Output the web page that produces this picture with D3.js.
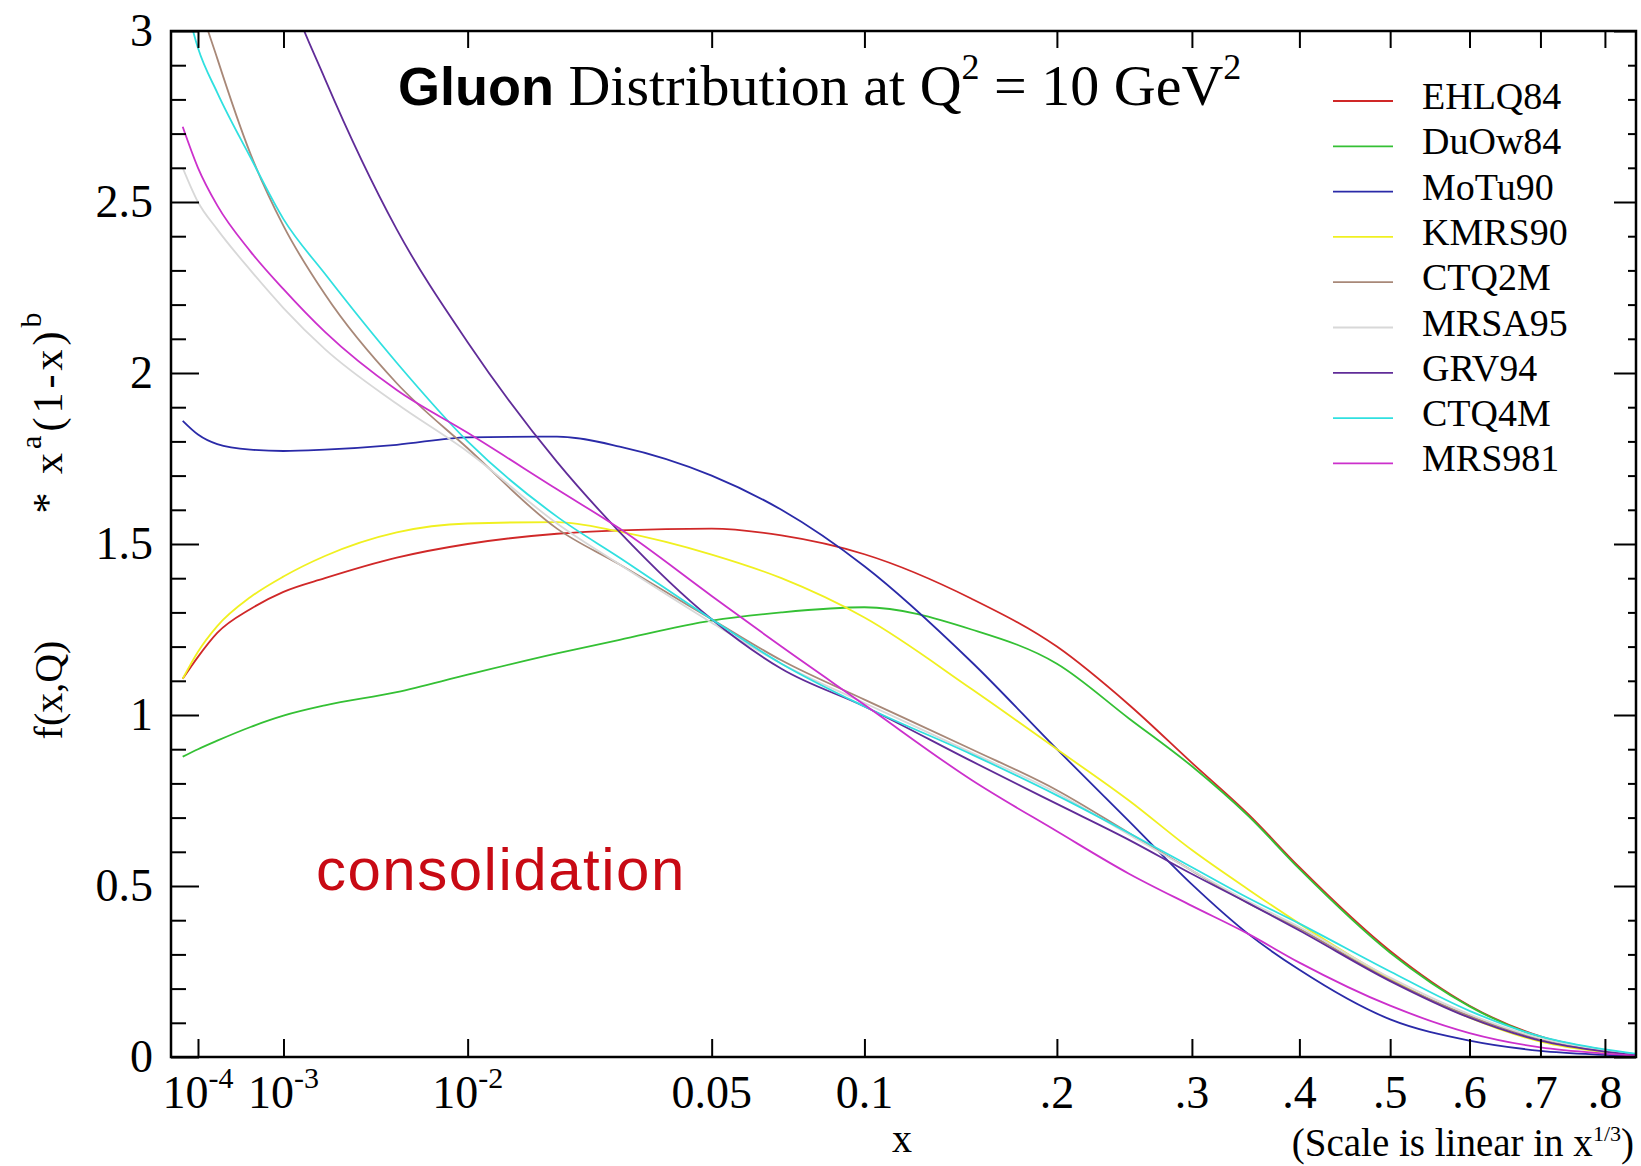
<!DOCTYPE html>
<html>
<head>
<meta charset="utf-8">
<script src="https://cdn.jsdelivr.net/npm/d3@7"></script>
<style>
  body { margin: 0; background: #fff; }
  svg { display: block; }
  .serif { font-family: 'Liberation Serif', 'Times New Roman', serif; }
  .sans { font-family: 'Liberation Sans', Arial, sans-serif; }
  .tick line { stroke: #000; stroke-width: 2; }
</style>
</head>
<body>
<div id="chart"></div>
<script>
'use strict';

var xGrid = [5e-5, 1e-4, 2e-4, 5e-4, 1e-3, 2e-3, 5e-3, 1e-2, 0.02, 0.03, 0.05, 0.07, 0.1, 0.15, 0.2, 0.25, 0.3, 0.35, 0.4, 0.5, 0.6, 0.7, 0.8, 0.85];

var ehlq84 = [1.106, 1.17, 1.24, 1.31, 1.36, 1.40, 1.46, 1.50, 1.53, 1.54, 1.545, 1.525, 1.47, 1.34, 1.20, 1.03, 0.86, 0.71, 0.555, 0.31, 0.15, 0.06, 0.02, 0.008];
var duow84 = [0.878, 0.90, 0.925, 0.965, 0.998, 1.028, 1.067, 1.118, 1.18, 1.22, 1.276, 1.30, 1.315, 1.25, 1.15, 0.99, 0.85, 0.705, 0.55, 0.305, 0.148, 0.058, 0.019, 0.007];
var motu90 = [1.86, 1.82, 1.792, 1.776, 1.772, 1.776, 1.79, 1.812, 1.814, 1.785, 1.70, 1.60, 1.435, 1.155, 0.90, 0.69, 0.505, 0.36, 0.255, 0.11, 0.048, 0.018, 0.006, 0.002];
var kmrs90 = [1.106, 1.185, 1.26, 1.345, 1.405, 1.465, 1.534, 1.56, 1.564, 1.536, 1.469, 1.40, 1.285, 1.076, 0.90, 0.75, 0.605, 0.49, 0.39, 0.229, 0.115, 0.045, 0.014, 0.005];
var ctq2m  = [3.30, 3.10, 2.92, 2.64, 2.43, 2.23, 1.97, 1.78, 1.545, 1.44, 1.28, 1.16, 1.045, 0.90, 0.78, 0.655, 0.545, 0.45, 0.375, 0.225, 0.12, 0.052, 0.018, 0.007];
var mrsa95 = [2.60, 2.50, 2.42, 2.30, 2.19, 2.07, 1.91, 1.77, 1.56, 1.44, 1.27, 1.15, 1.035, 0.89, 0.772, 0.65, 0.545, 0.455, 0.38, 0.232, 0.125, 0.055, 0.019, 0.007];
var grv94  = [4.6, 4.3, 3.95, 3.5, 3.16, 2.86, 2.42, 2.09, 1.74, 1.535, 1.28, 1.135, 1.025, 0.865, 0.74, 0.635, 0.535, 0.45, 0.37, 0.222, 0.115, 0.048, 0.016, 0.006];
var ctq4m  = [3.12, 2.95, 2.82, 2.63, 2.45, 2.29, 2.03, 1.80, 1.58, 1.46, 1.28, 1.15, 1.025, 0.885, 0.765, 0.655, 0.555, 0.465, 0.39, 0.25, 0.135, 0.06, 0.022, 0.01];
var mrs981 = [2.72, 2.60, 2.49, 2.355, 2.245, 2.12, 1.95, 1.825, 1.66, 1.545, 1.348, 1.20, 1.03, 0.81, 0.66, 0.536, 0.442, 0.36, 0.276, 0.15, 0.07, 0.028, 0.01, 0.004];

var seriesNames = ['EHLQ84', 'DuOw84', 'MoTu90', 'KMRS90', 'CTQ2M', 'MRSA95', 'GRV94', 'CTQ4M', 'MRS981'];
var seriesValues = [ehlq84, duow84, motu90, kmrs90, ctq2m, mrsa95, grv94, ctq4m, mrs981];
var seriesColors = ['#d02828', '#34c034', '#2a2aa8', '#f0f020', '#a88878', '#d8d8d8', '#602c98', '#30e0e0', '#cc30cc'];

var xTicks = [1e-4, 1e-3, 1e-2, 0.05, 0.1, 0.2, 0.3, 0.4, 0.5, 0.6, 0.7, 0.8];
var xTickLabels = [['10', '-4'], ['10', '-3'], ['10', '-2'], ['0.05'], ['0.1'], ['.2'], ['.3'], ['.4'], ['.5'], ['.6'], ['.7'], ['.8']];
var yMajor = [0, 0.5, 1, 1.5, 2, 2.5, 3];

var width = 1641, height = 1166;
var plot = {left: 171, right: 1636, top: 31, bottom: 1057};

var svg = d3.select('#chart').append('svg')
    .attr('width', width)
    .attr('height', height);

svg.append('rect').attr('width', width).attr('height', height).attr('fill', '#fff');

// the x axis is linear in x^(1/3)
var x = d3.scalePow().exponent(1 / 3)
  .domain([Math.pow(0.0295, 3), Math.pow(0.9478, 3)])
  .range([plot.left, plot.right]);

var y = d3.scaleLinear()
  .domain([0, 3])
  .range([plot.bottom, plot.top]);

var yMinor = d3.range(0, 3.001, 0.1).filter(function(d) {
  return Math.abs(d * 2 - Math.round(d * 2)) > 1e-6;
});

svg.append('clipPath').attr('id', 'plotclip')
  .append('rect')
    .attr('x', plot.left)
    .attr('y', plot.top)
    .attr('width', plot.right - plot.left)
    .attr('height', plot.bottom - plot.top);

// curves
var line = d3.line()
  .x(function(d, i) { return x(xGrid[i]); })
  .y(function(d) { return y(d); })
  .curve(d3.curveMonotoneX);

svg.append('g')
    .attr('clip-path', 'url(#plotclip)')
  .selectAll('path')
  .data(seriesValues)
  .enter()
  .append('path')
    .attr('d', line)
    .attr('fill', 'none')
    .attr('stroke', function(d, i) { return seriesColors[i]; })
    .attr('stroke-width', 1.8);

// ticks, all pointing inward
svg.append('g')
    .attr('transform', 'translate(0,' + plot.bottom + ')')
    .call(d3.axisBottom(x).tickValues(xTicks).tickSize(-18).tickFormat(''))
    .call(function(g) { g.select('.domain').remove(); });

svg.append('g')
    .attr('transform', 'translate(0,' + plot.top + ')')
    .call(d3.axisTop(x).tickValues(xTicks).tickSize(-17).tickFormat(''))
    .call(function(g) { g.select('.domain').remove(); });

svg.append('g')
    .attr('transform', 'translate(' + plot.left + ',0)')
    .call(d3.axisLeft(y).tickValues(yMajor).tickSize(-28).tickPadding(18).tickFormat(d3.format('')))
    .call(function(g) {
      g.select('.domain').remove();
      g.selectAll('text')
        .attr('class', 'serif')
        .attr('font-size', 46)
        .attr('fill', '#000');
    });

svg.append('g')
    .attr('transform', 'translate(' + plot.left + ',0)')
    .call(d3.axisLeft(y).tickValues(yMinor).tickSize(-15).tickFormat(''))
    .call(function(g) { g.select('.domain').remove(); });

svg.append('g')
    .attr('transform', 'translate(' + plot.right + ',0)')
    .call(d3.axisRight(y).tickValues(yMajor).tickSize(-22).tickFormat(''))
    .call(function(g) { g.select('.domain').remove(); });

svg.append('g')
    .attr('transform', 'translate(' + plot.right + ',0)')
    .call(d3.axisRight(y).tickValues(yMinor).tickSize(-8).tickFormat(''))
    .call(function(g) { g.select('.domain').remove(); });

svg.append('rect')
    .attr('x', plot.left)
    .attr('y', plot.top)
    .attr('width', plot.right - plot.left)
    .attr('height', plot.bottom - plot.top)
    .attr('fill', 'none')
    .attr('stroke', '#000')
    .attr('stroke-width', 2.5);

// x tick labels, with exponents for the powers of ten
var xlab = svg.append('g')
  .selectAll('text')
  .data(xTicks)
  .enter()
  .append('text')
    .attr('class', 'serif')
    .attr('x', function(d) { return x(d); })
    .attr('y', 1108)
    .attr('text-anchor', 'middle')
    .attr('font-size', 46);

xlab.each(function(d, i) {
  var t = d3.select(this);
  var parts = xTickLabels[i];
  t.append('tspan').text(parts[0]);
  if (parts.length > 1) {
    t.append('tspan').attr('dy', -20).attr('font-size', 30).text(parts[1]);
  }
});

svg.append('text')
    .attr('class', 'serif')
    .attr('x', 902)
    .attr('y', 1152)
    .attr('text-anchor', 'middle')
    .attr('font-size', 40)
    .text('x');

var note = svg.append('text')
    .attr('class', 'serif')
    .attr('x', 1634)
    .attr('y', 1156)
    .attr('text-anchor', 'end')
    .attr('font-size', 39);
note.append('tspan').text('(Scale is linear in x');
note.append('tspan').attr('dy', -15).attr('font-size', 22).text('1/3');
note.append('tspan').attr('dy', 15).text(')');

// y axis title, two pieces
svg.append('text')
    .attr('class', 'serif')
    .attr('transform', 'translate(62,690) rotate(-90)')
    .attr('text-anchor', 'middle')
    .attr('font-size', 40)
    .text('f(x,Q)');

var ytitle = svg.append('text')
    .attr('class', 'serif')
    .attr('transform', 'translate(62,411) rotate(-90)')
    .attr('text-anchor', 'middle')
    .attr('letter-spacing', 4)
    .attr('font-size', 42);
ytitle.append('tspan').text('*  x');
ytitle.append('tspan').attr('dy', -21).attr('font-size', 30).text('a');
ytitle.append('tspan').attr('dy', 21).text('(1-x)');
ytitle.append('tspan').attr('dy', -21).attr('font-size', 30).text('b');

// title
var title = svg.append('text')
    .attr('x', 398)
    .attr('y', 105)
    .attr('fill', '#000');
title.append('tspan').attr('class', 'sans').attr('font-weight', 'bold').attr('font-size', 54).text('Gluon');
title.append('tspan').attr('class', 'serif').attr('font-size', 58).text(' Distribution at Q');
title.append('tspan').attr('class', 'serif').attr('font-size', 36).attr('dy', -26).text('2');
title.append('tspan').attr('class', 'serif').attr('font-size', 58).attr('dy', 26).text(' = 10 GeV');
title.append('tspan').attr('class', 'serif').attr('font-size', 36).attr('dy', -26).text('2');

svg.append('text')
    .attr('class', 'sans')
    .attr('x', 316)
    .attr('y', 890)
    .attr('font-size', 60)
    .attr('letter-spacing', 1.5)
    .attr('fill', '#c80a14')
    .text('consolidation');

// legend
var legend = svg.append('g')
  .selectAll('g')
  .data(seriesNames)
  .enter()
  .append('g')
    .attr('transform', function(d, i) { return 'translate(0,' + (101 + i * 45.3) + ')'; });

legend.append('line')
    .attr('x1', 1333)
    .attr('x2', 1393)
    .attr('stroke', function(d, i) { return seriesColors[i]; })
    .attr('stroke-width', 1.8);

legend.append('text')
    .attr('class', 'serif')
    .attr('x', 1422)
    .attr('y', 8)
    .attr('font-size', 38)
    .text(function(d) { return d; });
</script>
</body>
</html>
